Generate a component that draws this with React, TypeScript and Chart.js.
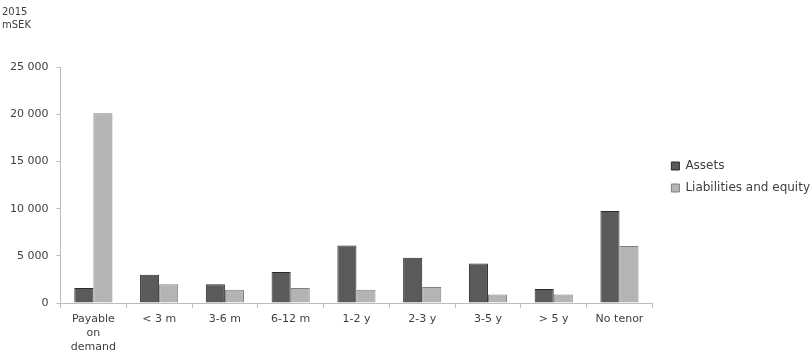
import React, { useEffect, useRef } from "react";
import { Chart, registerables } from "chart.js";

Chart.register(...registerables);

const categories: (string | string[])[] = [
  ["Payable", "on", "demand"],
  "< 3 m",
  "3-6 m",
  "6-12 m",
  "1-2 y",
  "2-3 y",
  "3-5 y",
  "> 5 y",
  "No tenor",
];
const assets = [1600, 3000, 2000, 3300, 6100, 4800, 4200, 1500, 9750];
const liabilities = [20100, 2000, 1400, 1600, 1400, 1700, 900, 900, 6050];
const titleLines = ["2015", "mSEK"];

const FONT = "'DejaVu Sans', sans-serif";

const legendShift = {
  id: "legendShift",
  afterLayout(chart: any) {
    const lg = chart.legend;
    if (!lg) return;
    lg.left += 9;
    lg.right += 9;
    lg.top -= 3;
    lg.bottom -= 3;
  },
};

export default function App() {
  const ref = useRef<HTMLCanvasElement | null>(null);
  useEffect(() => {
    if (!ref.current) return;
    const chart = new Chart(ref.current, {
      type: "bar",
      data: {
        labels: categories,
        datasets: [
          {
            label: "Assets",
            data: assets,
            backgroundColor: "#5a5a5a",
            borderColor: "#2a2a2a",
            borderWidth: 1,
            categoryPercentage: 0.58,
            barPercentage: 1,
          },
          {
            label: "Liabilities and equity",
            data: liabilities,
            backgroundColor: "#b4b4b4",
            borderColor: "#808080",
            borderWidth: 1,
            categoryPercentage: 0.58,
            barPercentage: 1,
          },
        ],
      },
      plugins: [legendShift],
      options: {
        animation: false,
        responsive: true,
        maintainAspectRatio: false,
        layout: { padding: { left: 2, right: 0, top: 2, bottom: -5 } },
        plugins: {
          title: {
            display: true,
            text: titleLines,
            align: "start",
            color: "#404040",
            font: { family: FONT, size: 10, weight: "normal", lineHeight: 1.3 },
            padding: { top: 4, bottom: 35 },
          },
          legend: {
            position: "right",
            labels: {
              boxWidth: 8,
              boxHeight: 8,
              padding: 10,
              color: "#404040",
              font: { family: FONT, size: 12 },
            },
          },
          tooltip: { enabled: false },
        },
        scales: {
          x: {
            grid: {
              display: true,
              drawOnChartArea: false,
              drawTicks: true,
              tickLength: 5,
              offset: true,
              color: "#bdbdbd",
            },
            border: { color: "#bdbdbd" },
            ticks: {
              color: "#404040",
              font: { family: FONT, size: 11, lineHeight: 1.27 },
              maxRotation: 0,
              autoSkip: false,
              padding: 4,
            },
          },
          y: {
            min: 0,
            max: 25000,
            grid: {
              display: true,
              drawOnChartArea: false,
              drawTicks: true,
              tickLength: 4,
              color: "#bdbdbd",
            },
            border: { color: "#bdbdbd" },
            ticks: {
              stepSize: 5000,
              color: "#404040",
              font: { family: FONT, size: 11 },
              padding: 8,
              callback: (v: any) =>
                String(v).replace(/\B(?=(\d{3})+(?!\d))/g, " "),
            },
          },
        },
      },
    });
    return () => chart.destroy();
  }, []);
  return (
    <div style={{ position: "absolute", left: 0, top: 0, width: 811, height: 353 }}>
      <canvas ref={ref} />
    </div>
  );
}
